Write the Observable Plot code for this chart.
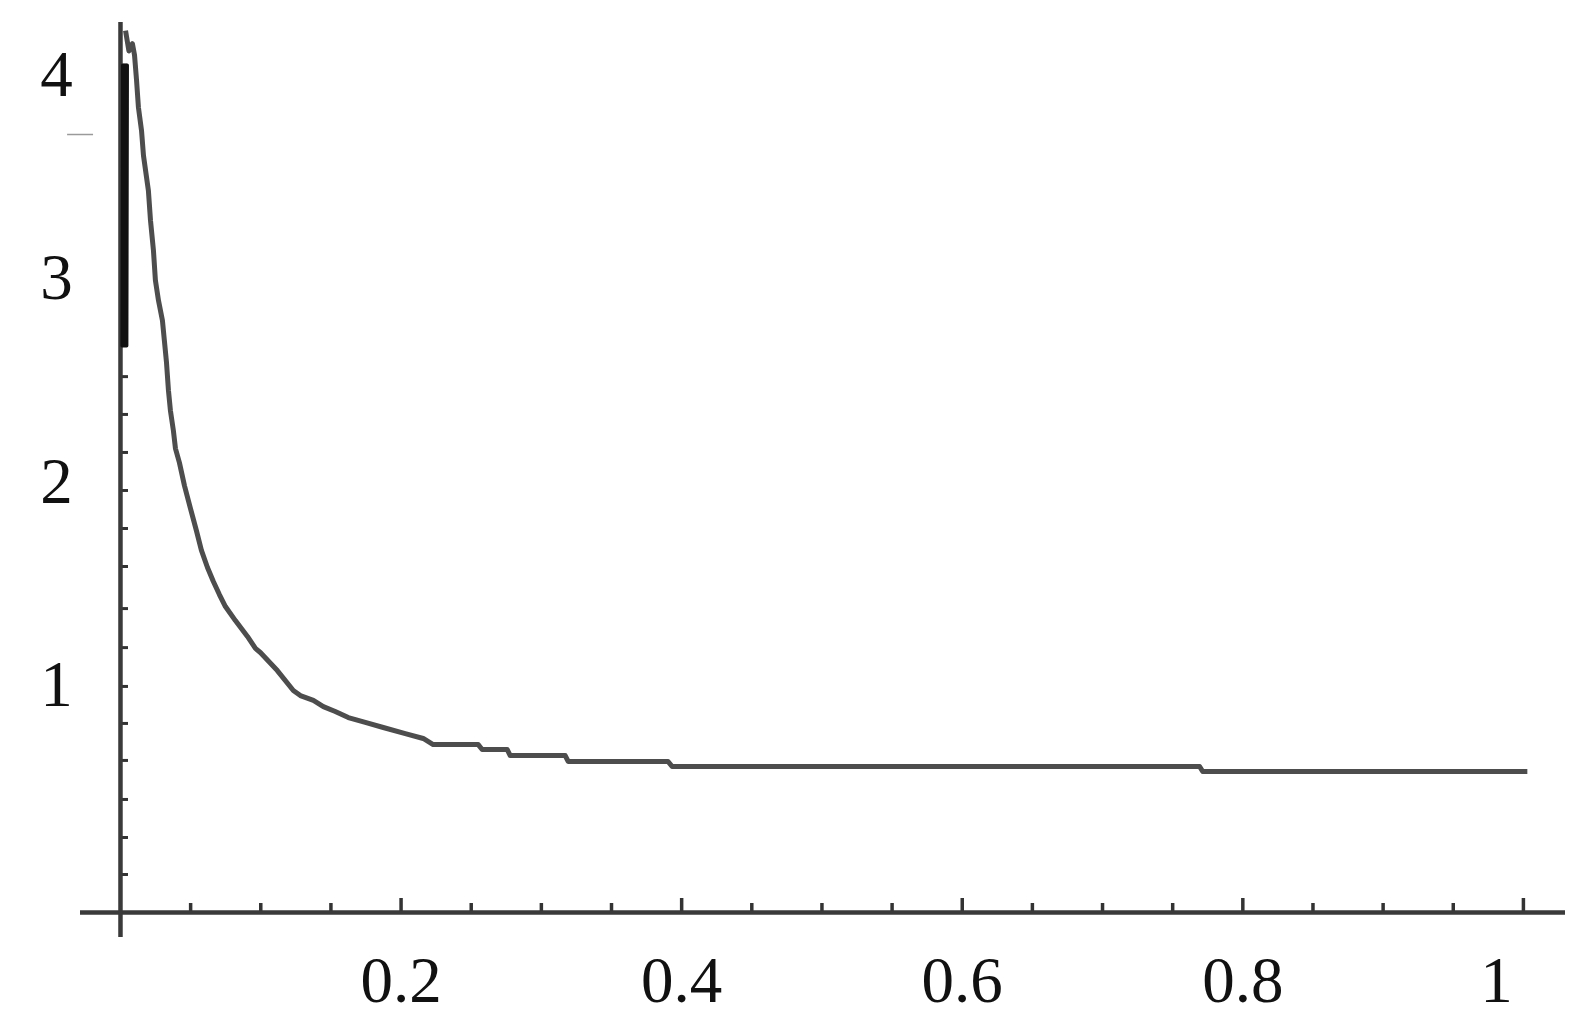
<!DOCTYPE html>
<html>
<head>
<meta charset="utf-8">
<script src="https://cdn.jsdelivr.net/npm/d3@7"></script>
<script src="https://cdn.jsdelivr.net/npm/@observablehq/plot@0.6"></script>
<style>
  html, body { margin: 0; padding: 0; background: #fff; }
  #chart svg { display: block; }
</style>
</head>
<body>
<div id="chart"></div>
<script>
// ---- data ----
// dense oscillation right next to x = 0 (drawn as a dark band)
const spikeX = [0.0012, 0.0016, 0.0020, 0.0024, 0.0028, 0.0032, 0.0036, 0.0040, 0.0044, 0.0048];
const spikeY = [2.67, 4.05, 2.67, 4.05, 2.67, 4.05, 2.67, 4.05, 2.67, 4.05];

// main curve
const curveX = [0.0036, 0.0060, 0.0085, 0.0100, 0.0114, 0.0128, 0.0150, 0.0164, 0.0199, 0.0214,
                0.0235, 0.0249, 0.0271, 0.0299, 0.0313, 0.0328, 0.0342, 0.0356, 0.0377, 0.0392,
                0.0420, 0.0456, 0.0499, 0.0541, 0.0577, 0.0620, 0.0662, 0.0705, 0.0748, 0.0819,
                0.0905, 0.0962, 0.0997, 0.1118, 0.1232, 0.1282, 0.1375, 0.1446, 0.1531, 0.1624,
                0.1745, 0.1873, 0.2030, 0.2158, 0.2229, 0.2550, 0.2578, 0.2756, 0.2778, 0.3170,
                0.3191, 0.3903, 0.3932, 0.7692, 0.7714, 1.0028];
const curveY = [4.22, 4.12, 4.156, 4.10, 3.98, 3.842, 3.728, 3.605, 3.433, 3.286,
                3.138, 2.991, 2.892, 2.794, 2.695, 2.587, 2.450, 2.351, 2.253, 2.164,
                2.095, 1.982, 1.869, 1.761, 1.663, 1.579, 1.510, 1.446, 1.387, 1.318,
                1.240, 1.181, 1.161, 1.072, 0.974, 0.949, 0.925, 0.895, 0.871, 0.841,
                0.817, 0.792, 0.762, 0.738, 0.708, 0.708, 0.684, 0.684, 0.654, 0.654,
                0.625, 0.625, 0.600, 0.600, 0.5755, 0.5755];

// axes
const xTickLabels = [0.2, 0.4, 0.6, 0.8];
const xLastLabel = [1];
const xMajorTicks = [0.2, 0.4, 0.6, 0.8, 1];
const xMinorTicks = [0.05, 0.1, 0.15, 0.25, 0.3, 0.35, 0.45, 0.5, 0.55, 0.65, 0.7, 0.75, 0.85, 0.9, 0.95];
const yTickLabels = [1, 2, 3, 4];
const yMinorTicks = [0.069, 0.251, 0.438, 0.630, 0.812, 0.994, 1.185, 1.377, 1.584, 1.771, 1.958, 2.145, 2.332, 2.518];
const xAxisAt = -0.118;       // where the horizontal axis crosses
const yAxisAt = 0;            // where the vertical axis crosses
const xExtent = [-0.0285, 1.03];
const yExtent = [-0.241, 4.26];
const strayDashY = [3.709];
const strayDashX = [-0.0377, -0.0192];

// ---- build ----
const W = 1594, H = 1031;
const mL = 80, mR = 29, mT = 22, mB = 94;
const pxPerY = (H - mT - mB) / (yExtent[1] - yExtent[0]);
const pxPerX = (W - mL - mR) / (xExtent[1] - xExtent[0]);
const font = "'Liberation Serif', 'DejaVu Serif', serif";

const spike = spikeX.map((x, i) => ({x, y: spikeY[i]}));
const curve = curveX.map((x, i) => ({x, y: curveY[i]}));

const chart = Plot.plot({
  width: W, height: H,
  marginLeft: mL, marginRight: mR, marginTop: mT, marginBottom: mB,
  style: {fontFamily: font, background: "#fff", color: "#111"},
  x: {domain: xExtent, label: null},
  y: {domain: yExtent, label: null},
  marks: [
    // stray dash left of the axis
    Plot.ruleY(strayDashY, {x1: strayDashX[0], x2: strayDashX[1], stroke: "#9a9a9a", strokeWidth: 1.5}),
    // x minor / major ticks (pointing up)
    Plot.ruleX(xMinorTicks, {y1: xAxisAt, y2: xAxisAt + 9 / pxPerY, stroke: "#333", strokeWidth: 3.5}),
    Plot.ruleX(xMajorTicks, {y1: xAxisAt, y2: xAxisAt + 14 / pxPerY, stroke: "#333", strokeWidth: 3.5}),
    // y minor ticks (pointing right)
    Plot.ruleY(yMinorTicks, {x1: yAxisAt, x2: yAxisAt + 8 / pxPerX, stroke: "#333", strokeWidth: 3}),
    // axis lines
    Plot.ruleY([xAxisAt], {x1: xExtent[0], x2: xExtent[1], stroke: "#3a3a3a", strokeWidth: 4.5}),
    Plot.ruleX([yAxisAt], {y1: yExtent[0], y2: yExtent[1], stroke: "#3a3a3a", strokeWidth: 4.5}),
    // curve
    Plot.line(curve, {x: "x", y: "y", stroke: "#4d4d4d", strokeWidth: 5, strokeLinejoin: "round", strokeLinecap: "butt"}),
    Plot.line(spike, {x: "x", y: "y", stroke: "#111", strokeWidth: 3.5}),
    // tick labels
    Plot.axisX(xTickLabels, {tickSize: 0, tickPadding: 18, fontSize: 65, tickFormat: d => String(d), fill: "#111", label: null}),
    Plot.axisX(xLastLabel, {tickSize: 0, tickPadding: 18, fontSize: 65, tickFormat: d => String(d), fill: "#111", dx: -27, label: null}),
    Plot.axisY(yTickLabels, {tickSize: 0, tickPadding: 24, textAnchor: "middle", fontSize: 65, tickFormat: d => String(d), fill: "#111", label: null})
  ]
});
document.getElementById("chart").appendChild(chart);
</script>
</body>
</html>
